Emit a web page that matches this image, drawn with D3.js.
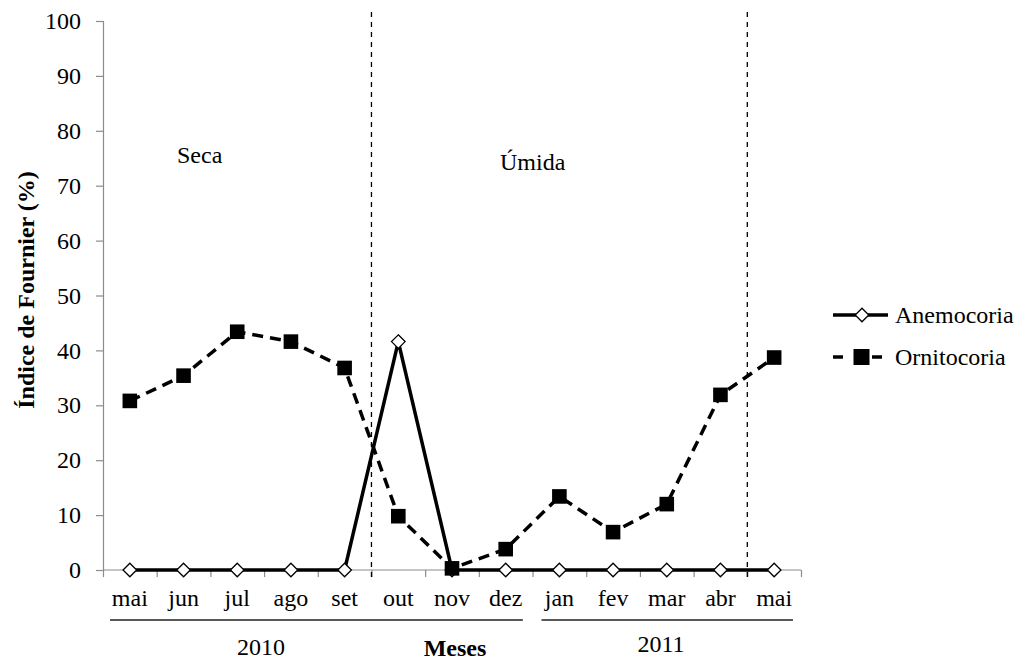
<!DOCTYPE html>
<html><head><meta charset="utf-8">
<script src="https://cdn.jsdelivr.net/npm/d3@7"></script>
<style>
body{margin:0;background:#fff;}
text{font-family:"Liberation Serif","Times New Roman",serif;fill:#000;}
</style></head>
<body><svg id="c" width="1020" height="663"></svg>
<script>
const months = ["mai","jun","jul","ago","set","out","nov","dez","jan","fev","mar","abr","mai"];
const anemocoria = [0,0,0,0,0,41.6,0,0,0,0,0,0,0];
const ornitocoria = [30.8,35.4,43.4,41.6,36.8,9.8,0.3,3.8,13.4,6.9,12.0,31.9,38.7];
const yTicks = [0,10,20,30,40,50,60,70,80,90,100];
const seriesNames = ["Anemocoria","Ornitocoria"];
const seasonBoundaries = [5,12];
const seasonLabels = ["Seca","Úmida"];
const years = ["2010","2011"];

const FONT = "Liberation Serif";
const svg = d3.select("#c");
const x0 = 103, x1 = 801, yTop = 21, yBot = 570;
const idx = d3.range(months.length);
const x = d3.scaleBand().domain(idx).range([x0,x1]).padding(0);
const xEdge = d3.scaleLinear().domain([0,months.length]).range([x0,x1]);
const y = d3.scaleLinear().domain([0,100]).range([yBot,yTop]);
const cx = i => x(i) + x.bandwidth()/2;
const axisColor = "#8c8c8c";

// Y axis
const gy = svg.append("g").attr("transform",`translate(${x0},0)`)
  .call(d3.axisLeft(y).tickValues(yTicks).tickSize(7).tickPadding(15))
  .attr("font-family",FONT).attr("font-size",24);
gy.select(".domain").attr("stroke",axisColor).attr("stroke-width",1.2);
gy.selectAll(".tick line").attr("stroke",axisColor).attr("stroke-width",1.2);
gy.selectAll(".tick text").style("font-size","24px").style("font-family",FONT).attr("fill","#000");

// X axis ticks at band edges
const gxe = svg.append("g").attr("transform",`translate(0,${yBot})`)
  .call(d3.axisBottom(xEdge).tickValues(d3.range(months.length+1)).tickSize(7).tickFormat(""));
gxe.select(".domain").attr("stroke",axisColor).attr("stroke-width",1.2).attr("d",`M${x0},0H${x1}`);
gxe.selectAll(".tick line").attr("stroke",axisColor).attr("stroke-width",1.2);

// Month labels
const gx = svg.append("g").attr("transform",`translate(0,${yBot})`)
  .call(d3.axisBottom(x).tickSize(0).tickPadding(19).tickFormat(i => months[i]))
  .attr("font-family",FONT).attr("font-size",24);
gx.select(".domain").remove();
gx.selectAll(".tick text").style("font-size","24px").style("font-family",FONT).attr("fill","#000");

// Season boundary dashed lines
svg.selectAll(".sb").data(seasonBoundaries).enter().append("line")
  .attr("x1",d=>xEdge(d)).attr("x2",d=>xEdge(d)).attr("y1",12).attr("y2",577)
  .attr("stroke","#000").attr("stroke-width",1.3).attr("stroke-dasharray","5,5");

// Season labels
svg.append("text").attr("x",177).attr("y",163).style("font-size","24px").text(seasonLabels[0]);
svg.append("text").attr("x",500).attr("y",170).style("font-size","24px").text(seasonLabels[1]);

// Year underlines
const yearSpans = [[x(0)+7, x(7)+44],[x(8)+9, x(12)+x.bandwidth()-8]];
svg.selectAll(".yl").data(yearSpans).enter().append("line")
  .attr("x1",d=>d[0]).attr("x2",d=>d[1]).attr("y1",620).attr("y2",620)
  .attr("stroke","#222").attr("stroke-width",1.5);
svg.append("text").attr("x",261).attr("y",655).attr("text-anchor","middle").style("font-size","24px").text(years[0]);
svg.append("text").attr("x",661).attr("y",652).attr("text-anchor","middle").style("font-size","24px").text(years[1]);
svg.append("text").attr("x",455).attr("y",656).attr("text-anchor","middle").style("font-size","24px").style("font-weight","bold").text("Meses");

// Y title
svg.append("text").attr("transform","translate(34,290) rotate(-90)").attr("text-anchor","middle")
  .style("font-size","24px").style("font-weight","bold").text("Índice de Fournier (%)");

const line = d3.line().x((d,i)=>cx(i)).y(d=>y(d));
const diamond = (g, px, py, r) => g.append("path")
  .attr("d",`M${px},${py-r}L${px+r},${py}L${px},${py+r}L${px-r},${py}Z`)
  .attr("fill","#fff").attr("stroke","#000").attr("stroke-width",1.3);
const square = (g, px, py, r) => g.append("rect")
  .attr("x",px-r).attr("y",py-r).attr("width",2*r).attr("height",2*r).attr("fill","#000");

// Anemocoria
svg.append("path").datum(anemocoria).attr("d",line).attr("fill","none")
  .attr("stroke","#000").attr("stroke-width",3.5).attr("stroke-linejoin","miter");
const ga = svg.append("g");
anemocoria.forEach((v,i)=>diamond(ga,cx(i),y(v),6.8));

// Ornitocoria
svg.append("path").datum(ornitocoria).attr("d",line).attr("fill","none")
  .attr("stroke","#000").attr("stroke-width",3.5).attr("stroke-dasharray","11,7");
const go = svg.append("g");
ornitocoria.forEach((v,i)=>square(go,cx(i),y(v),7.3));

// Legend
const lg = svg.append("g");
const ly = [315,357];
lg.append("line").attr("x1",833).attr("x2",888).attr("y1",ly[0]).attr("y2",ly[0]).attr("stroke","#000").attr("stroke-width",3.5);
diamond(lg,862,ly[0],6.8);
lg.append("line").attr("x1",833).attr("x2",843).attr("y1",ly[1]).attr("y2",ly[1]).attr("stroke","#000").attr("stroke-width",3.5);
lg.append("line").attr("x1",872).attr("x2",882).attr("y1",ly[1]).attr("y2",ly[1]).attr("stroke","#000").attr("stroke-width",3.5);
square(lg,861.5,ly[1],8);
seriesNames.forEach((n,i)=>lg.append("text").attr("x",895).attr("y",ly[i]).attr("dy","0.33em").style("font-size","24px").text(n));
</script></body></html>
